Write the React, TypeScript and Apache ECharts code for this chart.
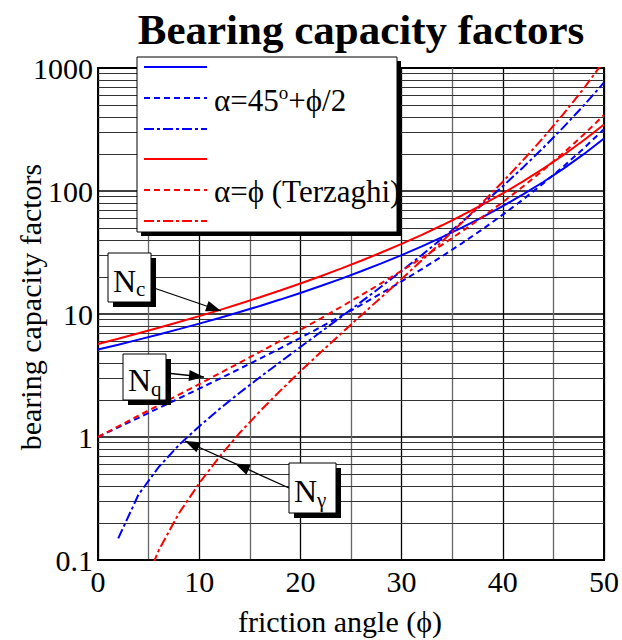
import React, { useEffect, useRef } from "react";
import * as echarts from "echarts";

// friction angle (deg)
const phi = [0, 2, 4, 6, 8, 10, 12, 14, 16, 18, 20, 22, 24, 26, 28, 30, 32, 34, 36, 38, 40, 42, 44, 46, 48, 50];

// alpha = 45 + phi/2 (blue)
const ncBlue = [5.14, 5.63, 6.19, 6.81, 7.53, 8.35, 9.28, 10.37, 11.63, 13.1, 14.83, 16.88, 19.32, 22.25, 25.8, 30.14, 35.49, 42.16, 50.59, 61.35, 75.31, 93.71, 118.37, 152.1, 199.26, 266.89];
const nqBlue = [1.0, 1.2, 1.43, 1.72, 2.06, 2.47, 2.97, 3.59, 4.34, 5.26, 6.4, 7.82, 9.6, 11.85, 14.72, 18.4, 23.18, 29.44, 37.75, 48.93, 64.2, 85.38, 115.31, 158.51, 222.31, 319.07];
const ngBlue = [null, 0.15, 0.34, 0.57, 0.86, 1.22, 1.69, 2.29, 3.06, 4.07, 5.39, 7.13, 9.44, 12.54, 16.72, 22.4, 30.22, 41.06, 56.31, 78.03, 109.41, 155.55, 224.64, 330.35, 496.01, 762.89];

// alpha = phi (Terzaghi) (red)
const ncRed = [5.7, 6.3, 6.97, 7.73, 8.6, 9.61, 10.76, 12.11, 13.68, 15.52, 17.69, 20.27, 23.36, 27.09, 31.61, 37.16, 44.04, 52.64, 63.53, 77.5, 95.66, 119.67, 151.95, 196.22, 258.28, 347.5];
const nqRed = [1.0, 1.22, 1.49, 1.81, 2.21, 2.69, 3.29, 4.02, 4.92, 6.04, 7.44, 9.19, 11.4, 14.21, 17.81, 22.46, 28.52, 36.5, 47.16, 61.55, 81.27, 108.75, 147.74, 204.19, 287.85, 415.14];
const ngRed = [null, null, 0.048, 0.12, 0.24, 0.42, 0.69, 1.08, 1.62, 2.37, 3.42, 4.88, 6.91, 9.74, 13.7, 19.3, 27.3, 38.9, 55.8, 80.9, 119, 178, 271, 424, 682, 1138];

const minorY = [0.2, 0.3, 0.4, 0.5, 0.6, 0.7, 0.8, 0.9, 2, 3, 4, 5, 6, 7, 8, 9, 20, 30, 40, 50, 60, 70, 80, 90, 200, 300, 400, 500, 600, 700, 800, 900];

const FONT = "Liberation Serif";
const BLUE = "#0000ff";
const RED = "#ff0000";
const DASH = [6, 4];
const DASHDOT = [10, 3, 3, 3];

function pairs(vals: (number | null)[]) {
  const out: number[][] = [];
  vals.forEach((v, i) => {
    if (v !== null) out.push([phi[i], v]);
  });
  return out;
}

function arrowHeads(x1: number, y1: number, x2: number, y2: number, ts: number[]) {
  const dx = x2 - x1, dy = y2 - y1;
  const len = Math.hypot(dx, dy);
  const ux = dx / len, uy = dy / len;
  const L = 15, W = 5.5;
  return ts.map((t) => {
    const px = x1 + dx * t, py = y1 + dy * t;
    const bx = px - ux * L, by = py - uy * L;
    return {
      type: "polygon",
      z: 100,
      shape: { points: [[px, py], [bx - uy * W, by + ux * W], [bx + uy * W, by - ux * W]] },
      style: { fill: "#000" },
    };
  });
}

function box(x: number, y: number, w: number, h: number, sub: string) {
  return [
    { type: "rect", z: 100, shape: { x: x + 5, y: y + 5, width: w, height: h }, style: { fill: "#000" } },
    { type: "rect", z: 101, shape: { x, y, width: w, height: h }, style: { fill: "#fff", stroke: "#000", lineWidth: 1 } },
    {
      type: "text", z: 102, x: x + 5, y: y + h / 2 + 3,
      style: {
        text: "{n|N}{s|" + sub + "}",
        textVerticalAlign: "middle",
        rich: {
          n: { fontFamily: FONT, fontSize: 32, fill: "#000" },
          s: { fontFamily: FONT, fontSize: 21, fill: "#000", padding: [17, 0, 0, 0] },
        },
      },
    },
  ];
}

export default function App() {
  const ref = useRef<HTMLDivElement>(null);
  useEffect(() => {
    const chart = echarts.init(ref.current!, undefined, { renderer: "svg" });
    const curve = (name: string, vals: (number | null)[], color: string, type: any) => ({
      name,
      type: "line",
      data: pairs(vals),
      showSymbol: false,
      symbol: "none",
      z: 5,
      lineStyle: { color, width: 2, type },
    });

    const legendRows = [
      { y: 67, color: BLUE, type: "solid" },
      { y: 98, color: BLUE, type: DASH },
      { y: 129, color: BLUE, type: DASHDOT },
      { y: 159, color: RED, type: "solid" },
      { y: 190, color: RED, type: DASH },
      { y: 221, color: RED, type: DASHDOT },
    ];

    const graphic: any[] = [
      {
        type: "text", x: 361, y: 29,
        style: { text: "Bearing capacity factors", fontFamily: FONT, fontWeight: "bold", fontSize: 43, fill: "#000", textAlign: "center", textVerticalAlign: "middle" },
      },
      {
        type: "text", x: 30, y: 307, rotation: Math.PI / 2,
        style: { text: "bearing capacity factors", fontFamily: FONT, fontSize: 30, fill: "#000", textAlign: "center", textVerticalAlign: "middle" },
      },
      {
        type: "text", x: 340, y: 621,
        style: { text: "friction angle (ϕ)", fontFamily: FONT, fontSize: 30, fill: "#000", textAlign: "center", textVerticalAlign: "middle" },
      },
      // legend
      { type: "rect", z: 90, shape: { x: 141, y: 61, width: 260, height: 175 }, style: { fill: "#000" } },
      { type: "rect", z: 91, shape: { x: 137, y: 57, width: 260, height: 175 }, style: { fill: "#fff", stroke: "#000", lineWidth: 1 } },
      ...legendRows.map((r) => ({
        type: "line", z: 92,
        shape: { x1: 144, y1: r.y, x2: 207, y2: r.y },
        style: { stroke: r.color, lineWidth: 2, lineDash: r.type === "solid" ? null : r.type },
      })),
      {
        type: "text", z: 92, x: 214, y: 100,
        style: {
          text: "{a|α=45}{o|o}{a|+ϕ/2}",
          textVerticalAlign: "middle",
          rich: {
            a: { fontFamily: FONT, fontSize: 31, fill: "#000" },
            o: { fontFamily: FONT, fontSize: 19, fill: "#000", padding: [0, 0, 16, 0] },
          },
        },
      },
      {
        type: "text", z: 92, x: 214, y: 191,
        style: { text: "α=ϕ (Terzaghi)", fontFamily: FONT, fontSize: 31, fill: "#000", textVerticalAlign: "middle" },
      },
      // annotations
      ...box(108, 253, 43, 49, "c"),
      ...box(123, 354, 43, 46, "q"),
      ...box(289, 463, 47, 50, "γ"),
      { type: "line", z: 99, shape: { x1: 151, y1: 287, x2: 221, y2: 311 }, style: { stroke: "#000", lineWidth: 1.3 } },
      ...arrowHeads(151, 287, 221, 311, [1]),
      { type: "line", z: 99, shape: { x1: 166, y1: 373, x2: 204, y2: 377 }, style: { stroke: "#000", lineWidth: 1.3 } },
      ...arrowHeads(166, 373, 204, 377, [1]),
      { type: "line", z: 99, shape: { x1: 289, y1: 488, x2: 185, y2: 441 }, style: { stroke: "#000", lineWidth: 1.3 } },
      ...arrowHeads(289, 488, 185, 441, [0.52, 1]),
    ];

    chart.setOption({
      animation: false,
      grid: { left: 98, right: 18, top: 68, bottom: 80, show: true, borderColor: "#000", borderWidth: 2 },
      xAxis: {
        type: "value", min: 0, max: 50, interval: 5,
        axisLine: { show: true, lineStyle: { color: "#000", width: 2 } },
        axisTick: { show: false },
        axisLabel: {
          formatter: (v: number) => (v % 10 === 0 ? String(v) : ""),
          fontFamily: FONT, fontSize: 30, color: "#000", margin: 6,
        },
        splitLine: { show: true, lineStyle: { color: ["#000", "#666"], width: 1.3 } },
      },
      yAxis: {
        type: "log", logBase: 10, min: 0.1, max: 1000,
        axisLine: { show: true, lineStyle: { color: "#000", width: 2 } },
        axisTick: { show: false },
        axisLabel: {
          formatter: (v: number) => String(Number(v.toPrecision(3))),
          fontFamily: FONT, fontSize: 30, color: "#000", margin: 5,
        },
        splitLine: { show: true, lineStyle: { color: "#000", width: 1.5 } },
      },
      series: [
        {
          type: "line", data: [], z: 1, silent: true,
          markLine: {
            silent: true, symbol: "none", animation: false,
            label: { show: false },
            lineStyle: { color: "#333", width: 1, type: "solid" },
            data: minorY.map((v) => ({ yAxis: v })),
          },
        },
        curve("Nc a=45+phi/2", ncBlue, BLUE, "solid"),
        curve("Nq a=45+phi/2", nqBlue, BLUE, DASH),
        curve("Ngamma a=45+phi/2", ngBlue, BLUE, DASHDOT),
        curve("Nc Terzaghi", ncRed, RED, "solid"),
        curve("Nq Terzaghi", nqRed, RED, DASH),
        curve("Ngamma Terzaghi", ngRed, RED, DASHDOT),
      ],
      graphic,
    });
    return () => chart.dispose();
  }, []);
  return <div ref={ref} style={{ position: "fixed", left: 0, top: 0, width: 622, height: 640, background: "#fff" }} />;
}
